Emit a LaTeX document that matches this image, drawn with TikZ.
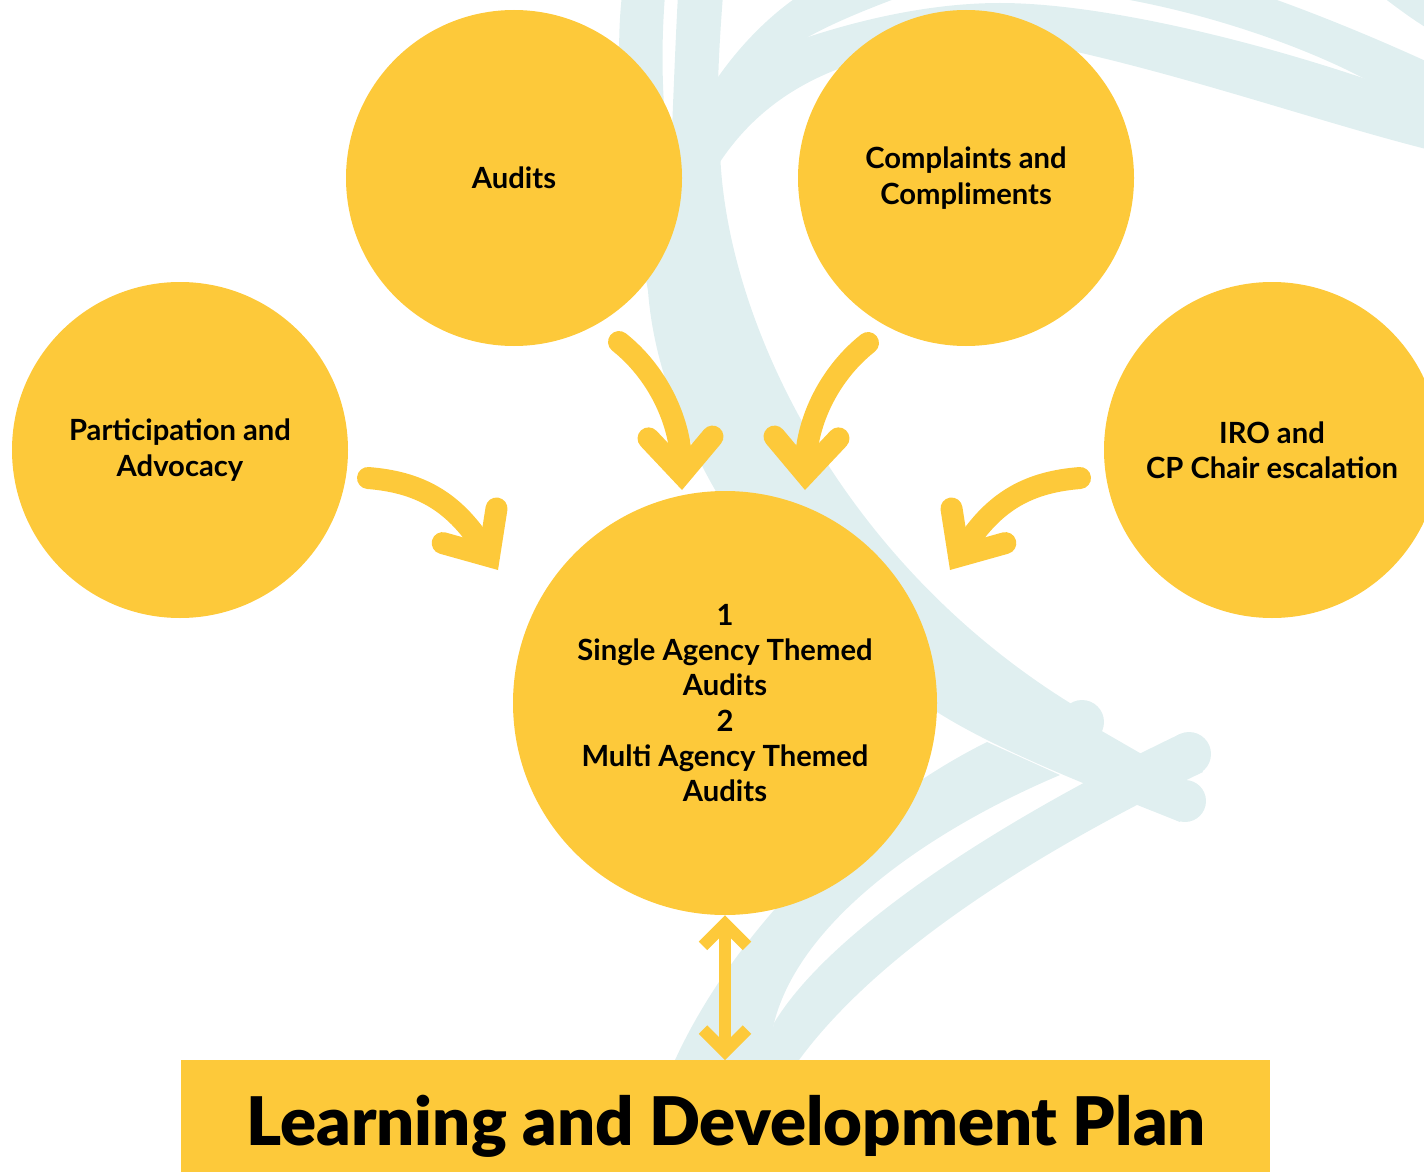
\documentclass[tikz,border=0pt]{standalone}
\usepackage{fontspec}
\setmainfont{Lato}
\IfFontExistsTF{Lato Black}{\newfontfamily\headfont{Lato Black}}{\newfontfamily\headfont{Lato}[FakeBold=1.2]}
\definecolor{marigold}{RGB}{253, 201, 58}
\definecolor{swirl}{RGB}{224, 239, 240}
\usepackage{tikz}
\usetikzlibrary{arrows.meta, positioning, calc}

\begin{document}
\begin{tikzpicture}[x=0.5pt, y=-0.5pt,
    blob/.style={circle, fill=marigold, minimum size=168pt, inner sep=0pt, align=center,
                 font=\fontsize{14.6pt}{17.6pt}\selectfont\bfseries},
    flow/.style={draw=marigold, line width=11pt, line cap=round,
                 -{Straight Barb[length=18pt, width=32pt, line cap=round, line join=miter]}},
    link/.style={draw=marigold, line width=6pt,
                 {Straight Barb[length=11pt, width=22pt, line join=miter]}-{Straight Barb[length=11pt, width=22pt, line join=miter]}},
    planbar/.style={rectangle, fill=marigold, minimum width=544.5pt, minimum height=60pt, inner sep=0pt},
    plantitle/.style={anchor=base, font=\headfont\fontsize{33.5pt}{40pt}\selectfont}]
  \useasboundingbox (0,0) rectangle (1424,1172);
  \clip (0,0) rectangle (1424,1172);

  % brush strokes behind everything
  \fill[swirl] (622,-5) -- (665,-5) .. controls (660,60) and (660,150) .. (690,260)
    -- (648,290) .. controls (630,200) and (612,80) .. (622,-5) -- cycle;
  \fill[swirl] (678,-5) -- (723,-5) .. controls (718,60) and (716,110) .. (720,150)
    .. controls (725,320) and (840,560) .. (1070,703) -- (1100,730) -- (1185,779)
    -- (1180,822) .. controls (1100,790) and (1000,752) .. (937,712) -- (880,690)
    .. controls (780,600) and (715,500) .. (690,440) .. controls (665,390) and (648,330) .. (647,270)
    -- (660,200) -- (672,130) .. controls (674,80) and (676,30) .. (678,-5) -- cycle;
  \fill[swirl] (1082,722) circle[radius=22];
  \fill[swirl] (1185,801) circle[radius=21];
  % lower left sweep
  \fill[swirl] (987,742) .. controls (850,810) and (730,940) .. (675,1060) -- (655,1180)
    -- (750,1180) -- (774,1023) .. controls (800,920) and (930,830) .. (1060,775) -- cycle;
  % lower right sweep
  \fill[swirl] (774,1023) .. controls (830,930) and (1000,820) .. (1180,734) -- (1203,772)
    .. controls (1040,850) and (880,950) .. (799,1060) -- (780,1180) -- (740,1180) -- cycle;
  \fill[swirl] (1189,754) circle[radius=22];
  % top sweeps
  \fill[swirl] (716,80) .. controls (740,45) and (770,15) .. (800,-5) -- (905,-5)
    .. controls (870,8) and (835,22) .. (808,37) -- (722,110) -- cycle;
  \fill[swirl] (718,165) .. controls (760,100) and (830,55) .. (950,45) -- (1077,52)
    .. controls (1200,80) and (1330,125) .. (1430,150) -- (1430,100) -- (1363,78)
    .. controls (1250,40) and (1100,3) .. (1000,3) .. controls (930,3) and (860,20) .. (808,37)
    .. controls (770,50) and (740,70) .. (714,95) -- cycle;
  \fill[swirl] (1100,-5) .. controls (1200,10) and (1300,45) .. (1363,78) -- (1430,108)
    -- (1430,63) .. controls (1380,40) and (1320,15) .. (1263,-5) -- cycle;
  \fill[swirl] (1380,-5) -- (1430,-5) -- (1430,30) .. controls (1410,18) and (1395,6) .. (1380,-5) -- cycle;

  % sources
  \node[blob] (audits) at (514,178) {Audits};
  \node[blob] (complaints) at (966,178) {Complaints and\\Compliments};
  \node[blob] (participation) at (180,450) {Participation and\\Advocacy};
  \node[blob] (iro) at (1272,450) {IRO and\\CP Chair escalation};
  \node[blob, minimum size=212pt] (themed) at (725,703)
    {1\\Single Agency Themed\\Audits\\2\\Multi Agency Themed\\Audits};

  % plan bar
  \node[planbar, anchor=north] (plan) at (725.5,1060) {};
  \node[plantitle] (plantext) at (726,1145) {Learning and Development Plan};

  % arrows into the themed audits
  \coordinate (auditsOut) at (619,342);
  \coordinate (auditsIn) at (682,490);
  \coordinate (complaintsOut) at (868,343);
  \coordinate (complaintsIn) at (805,490);
  \coordinate (participationOut) at (368,478);
  \coordinate (participationIn) at (498,570);
  \coordinate (iroOut) at (1080,478);
  \coordinate (iroIn) at (950,570);
  \draw[flow] (auditsOut) .. controls +(38,30) and +(-2,-70) .. (auditsIn);
  \draw[flow] (complaintsOut) .. controls +(-38,30) and +(2,-70) .. (complaintsIn);
  \draw[flow] (participationOut) .. controls +(50,4) and +(-45,-70) .. (participationIn);
  \draw[flow] (iroOut) .. controls +(-50,4) and +(45,-70) .. (iroIn);

  \draw[link] (themed.south) -- (themed.south |- plan.north);
\end{tikzpicture}
\end{document}
